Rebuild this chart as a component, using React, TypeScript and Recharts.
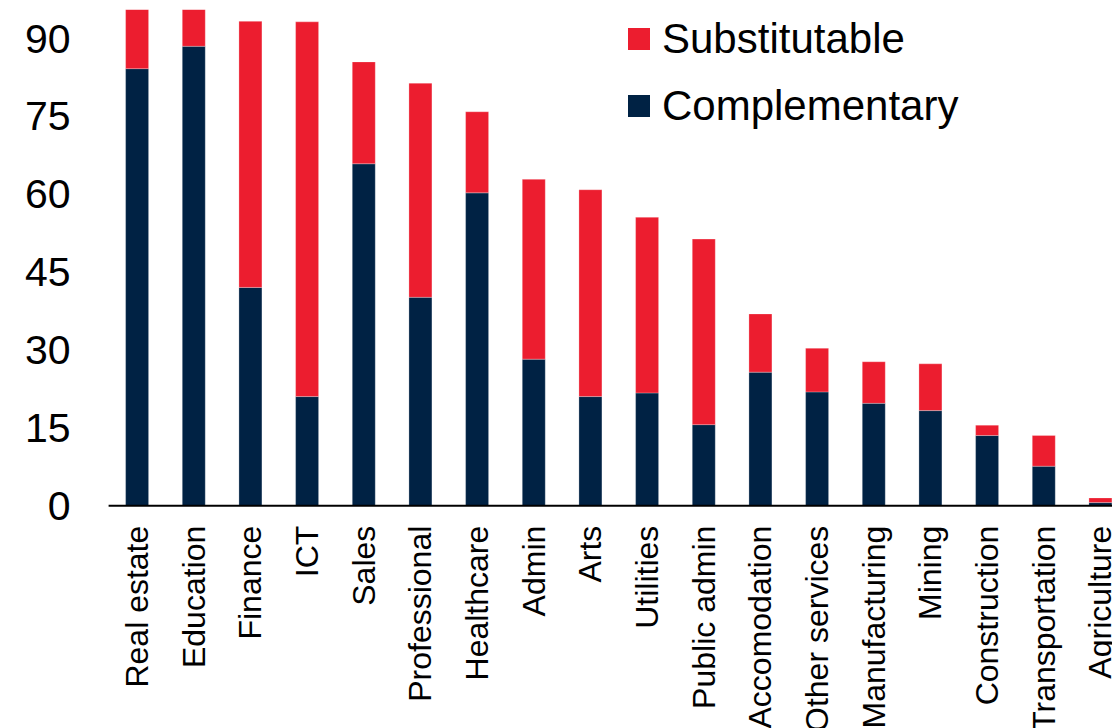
import React from "react";
import { BarChart, Bar, XAxis, YAxis, Legend } from "recharts";

// Share of employment exposed, by sector (stacked)
const sectors = [
  "Real estate", "Education", "Finance", "ICT", "Sales", "Professional",
  "Healthcare", "Admin", "Arts", "Utilities", "Public admin", "Accomodation",
  "Other services", "Manufacturing", "Mining", "Construction", "Transportation",
  "Agriculture",
];
const complementary = [
  84.1, 88.4, 42.0, 21.0, 65.8, 40.1, 60.2, 28.2, 21.0, 21.7, 15.6, 25.7,
  21.9, 19.7, 18.3, 13.5, 7.6, 0.6,
];
const substitutable = [
  11.4, 7.1, 51.2, 72.1, 19.6, 41.2, 15.6, 34.6, 39.8, 33.8, 35.7, 11.2,
  8.4, 8.0, 9.0, 2.0, 5.9, 0.9,
];
const yTicks = [0, 15, 30, 45, 60, 75, 90];

const NAVY = "#002244";
const RED = "#EC1D2F";
const FONT = "'Liberation Sans', Arial, sans-serif";

const data = sectors.map((name, i) => ({
  name,
  complementary: complementary[i],
  substitutable: substitutable[i],
}));

const SectorTick = (props: any) => {
  const { x, y, payload } = props;
  return (
    <g transform={`translate(${x},${y + 20})`}>
      <text
        transform="rotate(-90)"
        textAnchor="end"
        dy={11}
        fontSize={32}
        fontFamily={FONT}
        fill="#000"
      >
        {payload.value}
      </text>
    </g>
  );
};

const legendItems = [
  { label: "Substitutable", color: RED },
  { label: "Complementary", color: NAVY },
];

const LegendBox = () => (
  <div style={{ fontFamily: FONT, fontSize: 42, color: "#000" }}>
    {legendItems.map((it) => (
      <div
        key={it.label}
        style={{ display: "flex", alignItems: "center", height: 67, lineHeight: "67px" }}
      >
        <span
          style={{
            display: "inline-block",
            width: 22,
            height: 22,
            background: it.color,
            marginRight: 12,
          }}
        />
        <span>{it.label}</span>
      </div>
    ))}
  </div>
);

export default function App() {
  return (
    <div
      style={{
        position: "absolute",
        left: 0,
        top: 0,
        width: 1112,
        height: 728,
        overflow: "hidden",
        background: "#fff",
      }}
    >
      <BarChart
        width={1132}
        height={728}
        data={data}
        margin={{ top: 9.4, right: 3.4, left: 0, bottom: 0 }}
        barSize={23}
      >
        <YAxis
          width={108.6}
          domain={[0, 95.5]}
          ticks={yTicks}
          allowDataOverflow
          axisLine={false}
          tickLine={false}
          tickSize={0}
          tickMargin={38}
          tick={{ fontSize: 41, fill: "#000", fontFamily: FONT }}
        />
        <XAxis
          dataKey="name"
          interval={0}
          height={222.3}
          tickLine={false}
          tickSize={0}
          tickMargin={0}
          axisLine={{ stroke: "#000", strokeWidth: 2 }}
          tick={<SectorTick />}
        />
        <Legend
          verticalAlign="middle"
          align="center"
          layout="vertical"
          content={<LegendBox />}
          wrapperStyle={{ left: 628, top: 5, width: 420 }}
        />
        <Bar
          dataKey="complementary"
          stackId="a"
          fill={NAVY}
          stroke="rgba(255,255,255,0.45)"
          strokeWidth={0.6}
          isAnimationActive={false}
        />
        <Bar
          dataKey="substitutable"
          stackId="a"
          fill={RED}
          stroke="rgba(255,255,255,0.45)"
          strokeWidth={0.6}
          isAnimationActive={false}
        />
      </BarChart>
    </div>
  );
}
